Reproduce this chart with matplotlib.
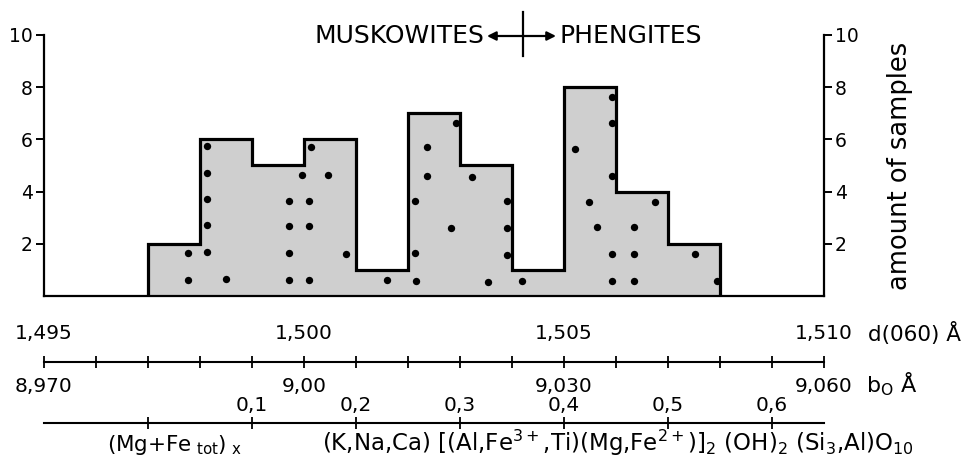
import matplotlib
matplotlib.use('Agg')
import matplotlib.pyplot as plt
from matplotlib.lines import Line2D

# ---------------- data ----------------
bin_edges = [1.497, 1.498, 1.499, 1.500, 1.501, 1.502, 1.503, 1.504, 1.505, 1.506, 1.507, 1.508]
counts = [2, 6, 5, 6, 1, 7, 5, 1, 8, 4, 2]

dot_d = [1.49777, 1.49777,
         1.49813, 1.49813, 1.49813, 1.49813, 1.49813, 1.49850,
         1.49971, 1.49971, 1.49971, 1.49971, 1.49997,
         1.50013, 1.50010, 1.50010, 1.50010, 1.50047, 1.50080,
         1.50159,
         1.50216, 1.50214, 1.50214, 1.50237, 1.50237, 1.50293, 1.50282,
         1.50324, 1.50391, 1.50391, 1.50391, 1.50353,
         1.50420,
         1.50593, 1.50593, 1.50522, 1.50593, 1.50549, 1.50564, 1.50593, 1.50593,
         1.50675, 1.50634, 1.50634, 1.50634,
         1.50752, 1.50794]
dot_n = [1.65, 0.62,
         5.75, 4.71, 3.72, 2.72, 1.69, 0.65,
         3.64, 2.68, 1.65, 0.61, 4.64,
         5.71, 3.64, 2.68, 0.61, 4.64, 1.61,
         0.61,
         0.57, 1.65, 3.64, 5.71, 4.60, 6.63, 2.60,
         4.56, 3.64, 2.60, 1.57, 0.54,
         0.57,
         7.62, 6.63, 5.63, 4.60, 3.60, 2.64, 1.61, 0.57,
         3.60, 2.64, 1.61, 0.57,
         1.61, 0.57]

y_ticks = [2, 4, 6, 8, 10]
d_ticks = [1.495, 1.500, 1.505, 1.510]
d_labels = ['1,495', '1,500', '1,505', '1,510']
d_minor = [1.495 + 0.001 * i for i in range(16)]
b_ticks = [8.970, 9.000, 9.030, 9.060]
b_labels = ['8,970', '9,00', '9,030', '9,060']
x_ticks = [0.0, 0.1, 0.2, 0.3, 0.4, 0.5, 0.6]
x_labels = ['', '0,1', '0,2', '0,3', '0,4', '0,5', '0,6']

# ---------------- layout ----------------
W, H = 974, 465
fig = plt.figure(figsize=(W / 100, H / 100), dpi=100)
plt.rcParams['font.family'] = ['DejaVu Sans']


def fx(px):
    return px / W


def fy(py):
    return 1 - py / H


# main histogram axes
ax = fig.add_axes([fx(44), fy(296), fx(824) - fx(44), fy(35) - fy(296)])
ax.set_xlim(1.495, 1.510)
ax.set_ylim(0, 10)
ax.stairs(counts, bin_edges, baseline=0, fill=True, facecolor='#cfcfcf',
          edgecolor='none', zorder=1)
ax.stairs(counts, bin_edges, baseline=0, color='black', lw=2.3, zorder=2)
ax.scatter(dot_d, dot_n, s=28, color='black', zorder=3, linewidths=0)
ax.spines['top'].set_visible(False)
for s in ['left', 'right', 'bottom']:
    ax.spines[s].set_linewidth(1.6)
ax.set_xticks([])
ax.set_yticks(y_ticks)
ax.tick_params(axis='y', direction='out', length=6, width=1.4, labelsize=13.5,
               pad=2, left=True, right=True, labelleft=True, labelright=True)
ax.yaxis.set_label_position('right')
ax.set_ylabel('amount of samples', fontsize=18.5, labelpad=20)

# d(060) axis
axd = fig.add_axes([fx(44), fy(362), fx(824) - fx(44), 0.0001])
axd.set_xlim(1.495, 1.510)
axd.set_yticks([])
for s in ['top', 'left', 'right']:
    axd.spines[s].set_visible(False)
axd.spines['bottom'].set_linewidth(1.5)
axd.patch.set_visible(False)
axd.set_xticks(d_ticks)
axd.set_xticklabels(d_labels)
axd.set_xticks(d_minor, minor=True)
axd.tick_params(axis='x', which='both', direction='inout', length=8, width=1.3,
                bottom=True, top=False, labelbottom=False, labeltop=True,
                labelsize=14.5, pad=10)

# b0 labels below the same line
sec = axd.secondary_xaxis('bottom', functions=(lambda d: d * 6, lambda b: b / 6))
sec.set_xticks(b_ticks)
sec.set_xticklabels(b_labels)
sec.spines['bottom'].set_visible(False)
sec.tick_params(axis='x', which='both', length=0, labelsize=14.5, pad=11)

# (Mg+Fe_tot)_x axis
axx = fig.add_axes([fx(44), fy(423), fx(824) - fx(44), 0.0001])
axx.set_xlim(-0.1, 0.65)
axx.set_yticks([])
for s in ['top', 'left', 'right']:
    axx.spines[s].set_visible(False)
axx.spines['bottom'].set_linewidth(1.5)
axx.patch.set_visible(False)
axx.set_xticks(x_ticks)
axx.set_xticklabels(x_labels)
axx.tick_params(axis='x', direction='inout', length=8, width=1.3,
                bottom=True, top=False, labelbottom=False, labeltop=True,
                labelsize=14.5, pad=1.5)

# axis names
fig.text(fx(868), fy(341), 'd(060) Å', fontsize=15.5, ha='left', va='baseline')
fig.text(fx(866), fy(392), r'b$_\mathrm{O}$ Å', fontsize=16, ha='left', va='baseline')
fig.text(fx(107), fy(451), r'(Mg+Fe$_\mathrm{\ tot}$)$_\mathrm{\ x}$', fontsize=15.5,
         ha='left', va='baseline')
fig.text(fx(322), fy(451),
         r'(K,Na,Ca) [(Al,Fe$^{3+}$,Ti)(Mg,Fe$^{2+}$)]$_2$ (OH)$_2$ (Si$_3$,Al)O$_{10}$',
         fontsize=16.5, ha='left', va='baseline')

# header
fig.text(fx(484), fy(43), 'MUSKOWITES', fontsize=18, ha='right', va='baseline')
fig.text(fx(559), fy(43), 'PHENGITES', fontsize=18, ha='left', va='baseline')
fig.add_artist(Line2D([fx(523), fx(523)], [fy(12), fy(56)], color='black', lw=1.6))
ax.annotate('', xy=(487, H - 36), xytext=(523, H - 36), xycoords='figure pixels',
            textcoords='figure pixels',
            arrowprops=dict(arrowstyle='-|>', lw=1.6, color='black', mutation_scale=13,
                            shrinkA=0, shrinkB=0))
ax.annotate('', xy=(556, H - 36), xytext=(523, H - 36), xycoords='figure pixels',
            textcoords='figure pixels',
            arrowprops=dict(arrowstyle='-|>', lw=1.6, color='black', mutation_scale=13,
                            shrinkA=0, shrinkB=0))

fig.savefig('out.png', dpi=100)
